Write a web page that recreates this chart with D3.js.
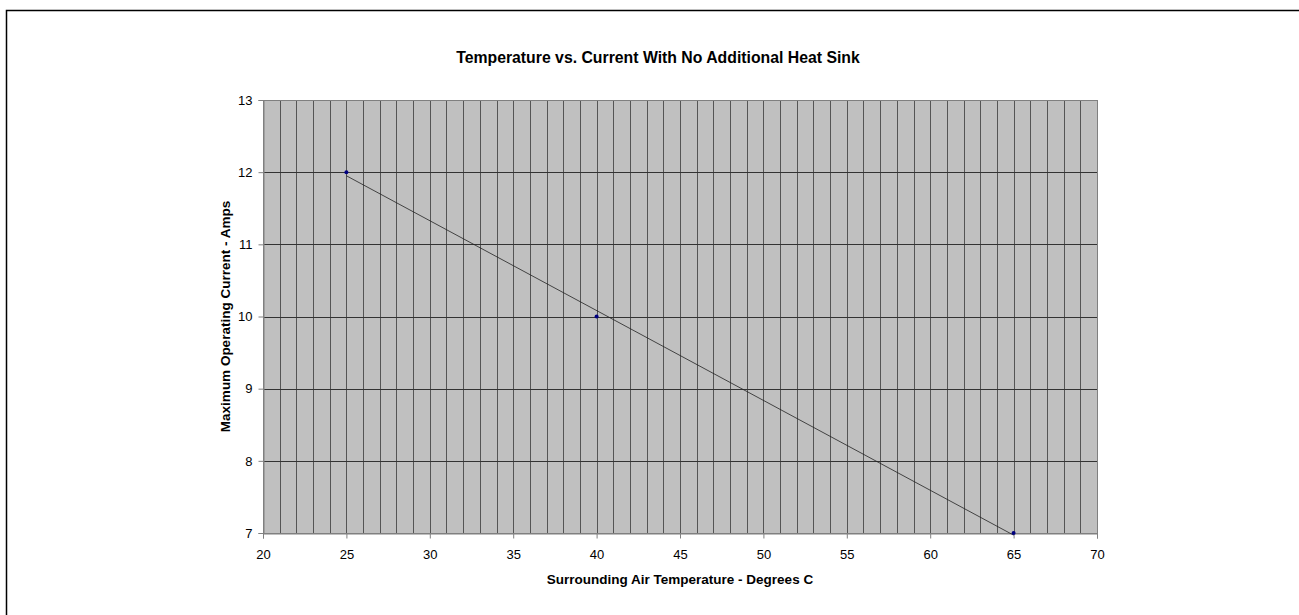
<!DOCTYPE html>
<html><head><meta charset="utf-8">
<script src="https://cdn.jsdelivr.net/npm/d3@7"></script>
<style>body{margin:0;background:#fff;}svg{display:block;font-family:"Liberation Sans",Arial,sans-serif;}</style>
</head><body>
<script>
const title = "Temperature vs. Current With No Additional Heat Sink";
const xTitle = "Surrounding Air Temperature - Degrees C";
const yTitle = "Maximum Operating Current - Amps";
const temps = [25, 40, 65];
const currents = [12, 10, 7];
const trendX = [25, 65];
const trendY = [11.95, 6.97];
const xTicks = [20, 25, 30, 35, 40, 45, 50, 55, 60, 65, 70];
const yTicks = [7, 8, 9, 10, 11, 12, 13];
const xMinorGrid = d3.range(20, 71, 1);

const W = 1299, H = 615;
const svg = d3.select("body").append("svg").attr("width", W).attr("height", H);
svg.append("rect").attr("x", 6.5).attr("y", 10.5).attr("width", W).attr("height", H)
  .attr("fill", "none").attr("stroke", "#000").attr("stroke-width", 1.5);

const L = 263, R = 1097, T = 100, B = 533;
const x = d3.scaleLinear().domain([20, 70]).range([L, R]);
const y = d3.scaleLinear().domain([7, 13]).range([B, T]);

svg.append("rect").attr("x", L).attr("y", T).attr("width", R - L).attr("height", B - T).attr("fill", "#c0c0c0");

const g = svg.append("g");
g.selectAll(".vg").data(xMinorGrid).join("line")
  .attr("x1", d => Math.round(x(d)) + 0.5).attr("x2", d => Math.round(x(d)) + 0.5)
  .attr("y1", T).attr("y2", B).attr("stroke", "#555").attr("stroke-width", 1);
g.selectAll(".hg").data(yTicks).join("line")
  .attr("y1", d => Math.round(y(d)) + 0.5).attr("y2", d => Math.round(y(d)) + 0.5)
  .attr("x1", L).attr("x2", R).attr("stroke", "#333").attr("stroke-width", 1);

svg.append("rect").attr("x", L + 0.5).attr("y", T + 0.5).attr("width", R - L).attr("height", B - T)
  .attr("fill", "none").attr("stroke", "#808080").attr("stroke-width", 1);

const xAxis = svg.append("g").attr("transform", `translate(0,${Math.round(B) + 0.5})`)
  .call(d3.axisBottom(x).tickValues(xTicks).tickSize(5).tickPadding(11).tickFormat(d3.format("d")));
xAxis.select(".domain").attr("stroke", "#808080");
xAxis.selectAll(".tick line").attr("stroke", "#808080");
xAxis.selectAll("text").attr("font-size", 13).attr("fill", "#000").attr("font-family", "'Liberation Sans',Arial,sans-serif");

const yAxis = svg.append("g").attr("transform", `translate(${L + 0.5},0)`)
  .call(d3.axisLeft(y).tickValues(yTicks).tickSize(5).tickPadding(6).tickFormat(d3.format("d")));
yAxis.select(".domain").attr("stroke", "#808080");
yAxis.selectAll(".tick line").attr("stroke", "#808080");
yAxis.selectAll("text").attr("font-size", 13).attr("fill", "#000").attr("font-family", "'Liberation Sans',Arial,sans-serif");

svg.append("line")
  .attr("x1", x(trendX[0])).attr("y1", y(trendY[0]))
  .attr("x2", x(trendX[1])).attr("y2", y(trendY[1]))
  .attr("stroke", "#222").attr("stroke-width", 0.8);

svg.selectAll(".pt").data(temps.map((t, i) => [t, currents[i]])).join("circle")
  .attr("cx", d => x(d[0])).attr("cy", d => y(d[1])).attr("r", 2).attr("fill", "#000080");

svg.append("text").attr("x", 658).attr("y", 63).attr("text-anchor", "middle")
  .attr("font-size", 15.8).attr("font-weight", "bold").text(title);
svg.append("text").attr("x", (L + R) / 2).attr("y", 584).attr("text-anchor", "middle")
  .attr("font-size", 13.5).attr("font-weight", "bold").text(xTitle);
svg.append("text").attr("transform", `translate(229.5,${(T + B) / 2}) rotate(-90)`).attr("text-anchor", "middle")
  .attr("font-size", 13.5).attr("font-weight", "bold").text(yTitle);
</script>
</body></html>
